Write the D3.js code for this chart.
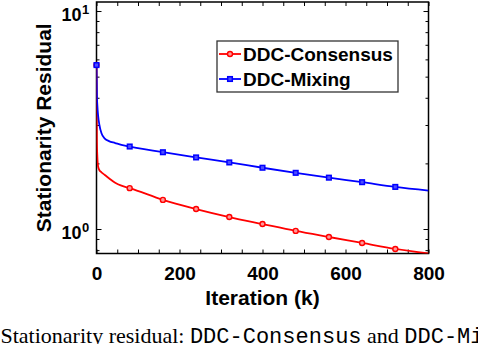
<!DOCTYPE html>
<html>
<head>
<meta charset="utf-8">
<script src="https://cdn.jsdelivr.net/npm/d3@7"></script>
<style>
  body { margin: 0; background: #fff; }
  svg { display: block; overflow: hidden; }
  text { font-family: "Liberation Sans", Arial, sans-serif; font-weight: bold; fill: #000; }
</style>
</head>
<body>
<svg width="478" height="344"></svg>
<script>
// données
const iterations = [0, 1, 2, 4, 7, 12, 20, 30, 45, 60, 80, 160, 240, 320, 400, 480, 560, 640, 720, 800];
const consensus = [5.65, 2.5, 2.15, 1.93, 1.86, 1.82, 1.77, 1.71, 1.63, 1.58, 1.54, 1.36, 1.235, 1.135, 1.054, 0.98, 0.919, 0.863, 0.81, 0.772];
const mixing = [5.65, 4.1, 3.7, 3.3, 3.0, 2.75, 2.6, 2.53, 2.48, 2.43, 2.39, 2.25, 2.13, 2.02, 1.91, 1.81, 1.72, 1.64, 1.56, 1.5];
const markerIters = [0, 80, 160, 240, 320, 400, 480, 560, 640, 720];
const xTicks = [0, 50, 100, 150, 200, 250, 300, 350, 400, 450, 500, 550, 600, 650, 700, 750, 800];
const xLabels = [0, 200, 400, 600, 800];
const yMajor = [1, 10];
const yMinor = [0.8, 0.9, 2, 3, 4, 5, 6, 7, 8, 9];
const seriesNames = ["DDC-Consensus", "DDC-Mixing"];

/*----------- dimensions -----------*/
const plotLeft = 96.5, plotRight = 428.5, plotTop = 2, plotBottom = 253.5;
const width = plotRight - plotLeft, height = plotBottom - plotTop;

const x = d3.scaleLinear().domain([0, 800]).range([0, width]);
const y = d3.scaleLog().domain([0.772, 11]).range([height, 0]);

const svg = d3.select("svg");
const chart = svg.append("g").attr("transform", "translate(" + plotLeft + "," + plotTop + ")");

chart.append("clipPath").attr("id", "clip")
  .append("rect").attr("width", width).attr("height", height);

const series = [
  { name: seriesNames[0], color: "#ff0000", inner: "#ff9999", values: consensus, marker: "circle" },
  { name: seriesNames[1], color: "#0000ff", inner: "#4d4dff", values: mixing, marker: "square" }
];
series.forEach((s) => {
  s.points = iterations.map((k, i) => ({ k: k, v: s.values[i] }));
});

const line = d3.line()
  .x((d) => x(d.k))
  .y((d) => y(d.v))
  .curve(d3.curveMonotoneX);

/*----------- axes (ticks vers l'intérieur) -----------*/
const axisStyle = (g) => {
  g.select(".domain").remove();
  g.selectAll("line").attr("stroke", "#000").attr("stroke-width", 1);
};

chart.append("g")
  .attr("transform", "translate(0," + height + ")")
  .call(d3.axisBottom(x).tickValues(xTicks).tickSize(-4)
    .tickFormat((d) => (xLabels.includes(d) ? d : "")))
  .call(axisStyle)
  .call((g) => g.attr("font-family", null).attr("font-size", null))
  .call((g) => g.selectAll("text")
    .attr("y", 26.5).attr("dy", 0)
    .attr("fill", "#000")
    .style("font-size", "19px"));

chart.append("g")
  .call(d3.axisTop(x).tickValues(xTicks).tickSize(-4).tickFormat(""))
  .call(axisStyle);

const yTicks = yMajor.concat(yMinor);
chart.append("g")
  .call(d3.axisLeft(y).tickValues(yTicks).tickFormat(""))
  .call(axisStyle)
  .call((g) => g.selectAll(".tick line").attr("x2", (d) => (yMajor.includes(d) ? 5 : 3)));

chart.append("g")
  .attr("transform", "translate(" + width + ",0)")
  .call(d3.axisRight(y).tickValues(yTicks).tickFormat(""))
  .call(axisStyle)
  .call((g) => g.selectAll(".tick line").attr("x2", (d) => (yMajor.includes(d) ? -5 : -3)));

// étiquettes 10^n
const yLab = chart.append("g").selectAll("g").data(yMajor).enter().append("g")
  .attr("transform", (d) => "translate(0," + y(d) + ")");
yLab.append("text")
  .attr("x", -15).attr("y", 10)
  .attr("text-anchor", "end")
  .style("font-size", "18px")
  .text("10");
yLab.append("text")
  .attr("x", -14.5).attr("y", 3)
  .style("font-size", "13px")
  .text((d) => Math.round(Math.log10(d)));

// cadre
chart.append("rect")
  .attr("width", width).attr("height", height)
  .attr("fill", "none").attr("stroke", "#000").attr("stroke-width", 1.5);

/*----------- courbes -----------*/
const plot = chart.append("g").attr("clip-path", "url(#clip)");

plot.selectAll(".serie").data(series).enter().append("path")
  .attr("fill", "none")
  .attr("stroke", (d) => d.color)
  .attr("stroke-width", 1.8)
  .attr("d", (d) => line(d.points));

function drawMarker(g, s, cx, cy) {
  if (s.marker === "circle") {
    g.append("circle").attr("cx", cx).attr("cy", cy).attr("r", 2.5)
      .attr("fill", s.inner).attr("stroke", s.color).attr("stroke-width", 1.4);
  } else {
    g.append("rect").attr("x", cx - 2.3).attr("y", cy - 2.3)
      .attr("width", 4.6).attr("height", 4.6)
      .attr("fill", s.inner).attr("stroke", s.color).attr("stroke-width", 1.5);
  }
}

series.forEach((s) => {
  markerIters.forEach((k) => {
    const p = s.points.find((d) => d.k === k);
    drawMarker(chart, s, x(p.k), y(p.v));
  });
});

/*----------- légende -----------*/
const legend = svg.append("g").attr("transform", "translate(217,41)");
legend.append("rect")
  .attr("width", 181).attr("height", 51)
  .attr("fill", "#fff").attr("stroke", "#333").attr("stroke-width", 1.3);

series.forEach((s, i) => {
  const ly = 13 + i * 25;
  legend.append("line")
    .attr("x1", 2).attr("x2", 24).attr("y1", ly).attr("y2", ly)
    .attr("stroke", s.color).attr("stroke-width", 1.8);
  drawMarker(legend, s, 13, ly);
  legend.append("text")
    .attr("x", 26).attr("y", ly + 7)
    .style("font-size", "19px")
    .text(s.name);
});

/*----------- titres des axes -----------*/
svg.append("text")
  .attr("x", plotLeft + width / 2).attr("y", 305)
  .attr("text-anchor", "middle")
  .style("font-size", "21px")
  .text("Iteration (k)");

svg.append("text")
  .attr("transform", "translate(51," + (plotTop + height / 2) + ") rotate(-90)")
  .attr("text-anchor", "middle")
  .style("font-size", "21px")
  .text("Stationarity Residual");

/*----------- légende de la figure -----------*/
const cap = svg.append("text").attr("x", 0.5).attr("y", 343)
  .style("font-weight", "normal").style("font-size", "22px");
cap.append("tspan").style("font-family", "'Liberation Serif', 'Times New Roman', serif")
  .text("Stationarity residual: ");
cap.append("tspan").style("font-family", "'Liberation Mono', 'Courier New', monospace")
  .text("DDC-Consensus");
cap.append("tspan").style("font-family", "'Liberation Serif', 'Times New Roman', serif")
  .text(" and ");
cap.append("tspan").style("font-family", "'Liberation Mono', 'Courier New', monospace")
  .text("DDC-Mixing");
</script>
</body>
</html>
